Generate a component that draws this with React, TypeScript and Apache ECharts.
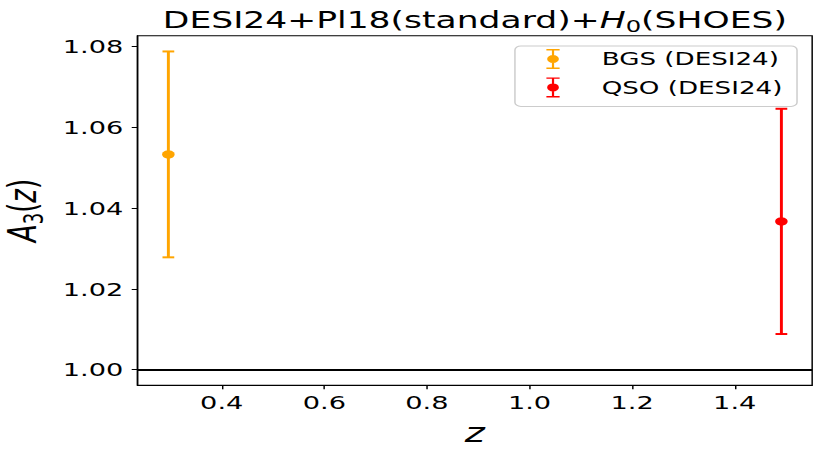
import React, { useEffect, useRef } from "react";
import * as echarts from "echarts";

// ---- data ----
const seriesNames = ["BGS (DESI24)", "QSO (DESI24)"];
const seriesColors = ["#FFA500", "#FF0000"];
const zValues = [0.296, 1.491];
const a3Values = [1.0533, 1.0367];
const a3Errors = [0.0255, 0.0279];
const xTicks = [0.4, 0.6, 0.8, 1.0, 1.2, 1.4];
const yTicks = [1.0, 1.02, 1.04, 1.06, 1.08];
const referenceLevel = 1.0;

const S = 1.47; // horizontal stretch of the reference figure
const W = 826 / S;
const FONT = "DejaVu Sans";

const legendIcon =
  "path://M0,0h9v1.4h-9z M0,18.6h9v1.4h-9z M3.75,0h1.5v20h-1.5z M0.5,10a4,4 0 1,1 8,0a4,4 0 1,1 -8,0z";

export default function App() {
  const ref = useRef<HTMLDivElement>(null);
  useEffect(() => {
    if (!ref.current) return;
    const chart = echarts.init(ref.current, undefined, { renderer: "svg" });

    const series: any[] = [];
    seriesNames.forEach((name, i) => {
      const y = a3Values[i];
      const e = a3Errors[i];
      series.push({
        type: "custom",
        name: name + " err",
        z: 2,
        data: [[zValues[i], y, y - e, y + e]],
        renderItem: (params: any, api: any) => {
          const x = api.value(0);
          const top = api.coord([x, api.value(3)]);
          const bot = api.coord([x, api.value(2)]);
          const style = { stroke: seriesColors[i], lineWidth: 2 };
          const cap = 4;
          return {
            type: "group",
            children: [
              { type: "line", shape: { x1: top[0], y1: top[1], x2: bot[0], y2: bot[1] }, style },
              { type: "line", shape: { x1: top[0] - cap, y1: top[1], x2: top[0] + cap, y2: top[1] }, style },
              { type: "line", shape: { x1: bot[0] - cap, y1: bot[1], x2: bot[0] + cap, y2: bot[1] }, style },
            ],
          };
        },
      });
      series.push({
        type: "scatter",
        name,
        z: 3,
        symbol: "circle",
        symbolSize: 8.5,
        itemStyle: { color: seriesColors[i], opacity: 1 },
        data: [[zValues[i], y]],
        markLine:
          i === 0
            ? {
                silent: true,
                symbol: "none",
                label: { show: false },
                lineStyle: { color: "#000", width: 2, type: "solid", opacity: 1 },
                data: [{ yAxis: referenceLevel }],
              }
            : undefined,
      });
    });

    chart.setOption({
      animation: false,
      backgroundColor: "#fff",
      title: {
        text: "DESI24+Pl18(standard)+{i|H}{s|0}(SHOES)",
        left: 323,
        top: 5,
        textAlign: "center",
        padding: 0,
        textStyle: {
          fontFamily: FONT,
          fontSize: 23.5,
          fontWeight: "normal",
          color: "#000",
          lineHeight: 30,
          rich: {
            i: { fontFamily: FONT, fontSize: 23.5, fontStyle: "italic", color: "#000", lineHeight: 30 },
            s: { fontFamily: FONT, fontSize: 16.5, color: "#000", lineHeight: 14, verticalAlign: "bottom" },
          },
        },
      },
      legend: {
        orient: "vertical",
        left: 350.3,
        top: 46,
        padding: [3, 10, 9, 21.4],
        itemWidth: 9,
        itemHeight: 20,
        itemGap: 8.4,
        backgroundColor: "rgba(255,255,255,0.8)",
        borderColor: "#cccccc",
        borderWidth: 1,
        borderRadius: 4,
        data: seriesNames.map((n) => ({ name: n, icon: legendIcon, itemStyle: { opacity: 1 } })),
        textStyle: { fontFamily: FONT, fontSize: 17.8, color: "#000", padding: [0, 0, 0, 23.6] },
      },
      grid: {
        left: 93.6,
        right: W - 552.4,
        top: 35.7,
        bottom: 74.7,
        show: true,
        borderColor: "#000",
        borderWidth: 1,
        backgroundColor: "transparent",
        outerBoundsMode: "none",
      },
      xAxis: {
        type: "value",
        min: 0.236,
        max: 1.551,
        name: "z",
        nameLocation: "middle",
        nameGap: 35,
        nameTextStyle: { fontFamily: FONT, fontSize: 26, fontStyle: "italic", color: "#000" },
        axisLine: { show: true, lineStyle: { color: "#000", width: 1 } },
        axisTick: { show: true, length: 4, lineStyle: { color: "#000" }, customValues: xTicks },
        axisLabel: {
          fontFamily: FONT,
          fontSize: 18.5,
          color: "#000",
          margin: 7,
          customValues: xTicks,
          formatter: (v: number) => v.toFixed(1),
        },
        splitLine: { show: false },
      },
      yAxis: {
        type: "value",
        min: 0.9961,
        max: 1.0827,
        name: "{i|A}{s|3}({i|z})",
        nameLocation: "middle",
        nameRotate: 90,
        nameGap: 58,
        nameTextStyle: {
          fontFamily: FONT,
          fontSize: 26,
          color: "#000",
          lineHeight: 32,
          rich: {
            i: { fontFamily: FONT, fontSize: 26, fontStyle: "italic", color: "#000", lineHeight: 32 },
            s: { fontFamily: FONT, fontSize: 18, color: "#000", lineHeight: 16, verticalAlign: "bottom" },
          },
        },
        axisLine: { show: true, lineStyle: { color: "#000", width: 1 } },
        axisTick: { show: true, length: 4, lineStyle: { color: "#000" }, customValues: yTicks },
        axisLabel: {
          fontFamily: FONT,
          fontSize: 18.5,
          color: "#000",
          margin: 9.7,
          customValues: yTicks,
          formatter: (v: number) => v.toFixed(2),
        },
        splitLine: { show: false },
      },
      series,
    });
    return () => chart.dispose();
  }, []);

  return (
    <div
      style={{
        position: "fixed",
        left: 0,
        top: 0,
        width: 826,
        height: 460,
        overflow: "hidden",
        background: "#fff",
      }}
    >
      <div
        ref={ref}
        style={{
          width: W,
          height: 460,
          transform: `scaleX(${S})`,
          transformOrigin: "0 0",
        }}
      />
    </div>
  );
}
